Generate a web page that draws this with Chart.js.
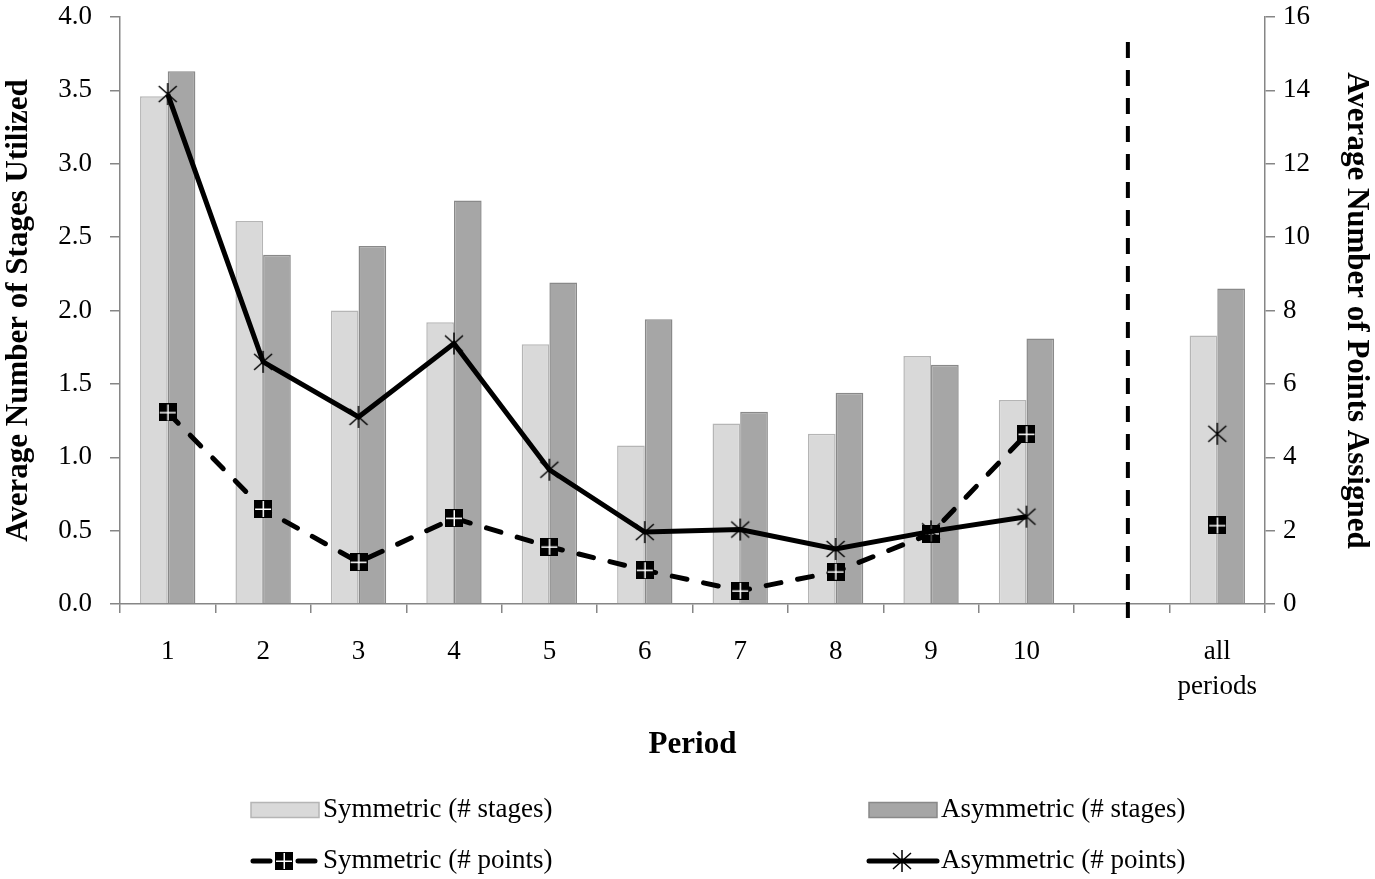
<!DOCTYPE html>
<html>
<head>
<meta charset="utf-8">
<script src="https://cdn.jsdelivr.net/npm/chart.js@4"></script>
<style>
  body { margin: 0; background: #fff; }
</style>
</head>
<body>
<canvas id="chart1" width="1375" height="879"></canvas>
<script>
// data
var periods = ["1", "2", "3", "4", "5", "6", "7", "8", "9", "10", "", ["all", "periods"]];
var symStages = [3.46, 2.61, 2.00, 1.92, 1.77, 1.08, 1.23, 1.16, 1.69, 1.39, null, 1.83];
var asymStages = [3.63, 2.38, 2.44, 2.75, 2.19, 1.94, 1.31, 1.44, 1.63, 1.81, null, 2.15];
var symPoints = [5.22, 2.59, 1.14, 2.34, 1.56, 0.92, 0.36, 0.88, 1.92, 4.63, null, 2.14];
var asymPoints = [13.9, 6.6, 5.1, 7.1, 3.66, 1.96, 2.03, 1.5, 1.98, 2.38, null, 4.64];
var stageTicks = [0, 0.5, 1, 1.5, 2, 2.5, 3, 3.5, 4];
var pointTicks = [0, 2, 4, 6, 8, 10, 12, 14, 16];

var serif = "'Liberation Serif', 'Times New Roman', serif";
var axisGray = "#868686";

// black square with a thin white cross
function squareMarker() {
  var c = document.createElement("canvas");
  c.width = 18; c.height = 18;
  var g = c.getContext("2d");
  g.fillStyle = "#000";
  g.fillRect(0, 0, 18, 18);
  g.fillStyle = "#fff";
  g.fillRect(1, 8.5, 16, 1.5);
  g.fillRect(8.5, 1, 1.5, 16);
  return c;
}

// asterisk: X plus a vertical stroke
function starMarker() {
  var c = document.createElement("canvas");
  c.width = 24; c.height = 24;
  var g = c.getContext("2d");
  g.strokeStyle = "#000";
  g.lineWidth = 1.5;
  g.beginPath();
  g.moveTo(3, 4); g.lineTo(21, 20);
  g.moveTo(21, 4); g.lineTo(3, 20);
  g.moveTo(12, 1); g.lineTo(12, 23);
  g.stroke();
  return c;
}

var symMark = squareMarker();
var asymMark = starMarker();

// keep tick label padding from pushing the plot area down
function fixWidth(w) {
  return function (s) {
    s.width = w;
    s.paddingTop = 0;
    s.paddingBottom = 0;
  };
}

// dashed separator before "all periods"
var separator = {
  id: "separator",
  afterDatasetsDraw: function (chart) {
    var x = chart.scales.x.getPixelForValue(10) + 6;
    var g = chart.ctx;
    g.save();
    g.strokeStyle = "#000";
    g.lineWidth = 4;
    g.setLineDash([16, 12]);
    g.beginPath();
    g.moveTo(x, 42);
    g.lineTo(x, 620);
    g.stroke();
    g.restore();
  }
};

// two-column legend under the axis title
var gridLegend = {
  id: "gridLegend",
  afterDraw: function (chart) {
    var g = chart.ctx;
    var cols = [251, 869];
    var rows = [810, 861];
    g.save();
    g.font = "27px " + serif;
    g.textBaseline = "middle";
    chart.data.datasets.forEach(function (ds, i) {
      var x = cols[i % 2], y = rows[Math.floor(i / 2)];
      if (ds.type === "line") {
        g.strokeStyle = "#000";
        g.lineWidth = 5;
        g.lineCap = "round";
        g.beginPath();
        if (ds.borderDash) {
          g.moveTo(x + 2, y); g.lineTo(x + 19, y);
          g.moveTo(x + 47, y); g.lineTo(x + 64, y);
        } else {
          g.moveTo(x, y); g.lineTo(x + 68, y);
        }
        g.stroke();
        var m = ds.pointStyle;
        g.drawImage(m, x + 33 - m.width / 2, y - m.height / 2);
      } else {
        g.fillStyle = ds.backgroundColor;
        g.fillRect(x, y - 7.5, 68, 15);
        g.strokeStyle = ds.borderColor;
        g.lineWidth = 1.5;
        g.strokeRect(x, y - 7.5, 68, 15);
      }
      g.fillStyle = "#000";
      g.fillText(ds.label, x + 72, y);
    });
    g.restore();
  }
};

new Chart(document.getElementById("chart1"), {
  type: "bar",
  data: {
    labels: periods,
    datasets: [
      {
        label: "Symmetric (# stages)",
        data: symStages,
        backgroundColor: "#d9d9d9",
        borderColor: "#b5b5b5",
        borderWidth: 1.5,
        yAxisID: "y",
        order: 2
      },
      {
        label: "Asymmetric (# stages)",
        data: asymStages,
        backgroundColor: "#a6a6a6",
        borderColor: "#898989",
        borderWidth: 1.5,
        yAxisID: "y",
        order: 2
      },
      {
        type: "line",
        label: "Symmetric (# points)",
        data: symPoints,
        borderColor: "#000",
        borderWidth: 5,
        borderDash: [15, 17],
        borderCapStyle: "round",
        pointStyle: symMark,
        pointRadius: 9,
        tension: 0,
        spanGaps: false,
        yAxisID: "y1",
        order: 1
      },
      {
        type: "line",
        label: "Asymmetric (# points)",
        data: asymPoints,
        borderColor: "#000",
        borderWidth: 5,
        pointStyle: asymMark,
        pointRadius: 12,
        tension: 0,
        spanGaps: false,
        yAxisID: "y1",
        order: 0
      }
    ]
  },
  options: {
    responsive: false,
    animation: false,
    categoryPercentage: 0.58,
    barPercentage: 1,
    layout: { padding: { top: 13, left: 0, right: 0, bottom: 110 } },
    plugins: {
      legend: { display: false },
      tooltip: { enabled: false }
    },
    scales: {
      x: {
        afterFit: function (s) { s.height = 165; },
        grid: { drawOnChartArea: false, tickLength: 9, color: axisGray, lineWidth: 1.5 },
        border: { color: axisGray, width: 1.5 },
        ticks: {
          color: "#000",
          padding: 21,
          maxRotation: 0,
          autoSkip: false,
          font: { family: serif, size: 27, lineHeight: 1.3 }
        },
        title: {
          display: true,
          text: "Period",
          color: "#000",
          padding: { top: 0, bottom: 5 },
          font: { family: serif, size: 31, weight: "bold" }
        }
      },
      y: {
        position: "left",
        min: 0,
        max: 4,
        afterFit: fixWidth(120),
        afterBuildTicks: function (s) { s.ticks = stageTicks.map(function (v) { return { value: v }; }); },
        grid: { drawOnChartArea: false, tickLength: 10, color: axisGray, lineWidth: 1.5 },
        border: { color: axisGray, width: 1.5 },
        ticks: {
          color: "#000",
          padding: 18,
          font: { family: serif, size: 27, lineHeight: 1 },
          callback: function (v) { return v.toFixed(1); }
        },
        title: {
          display: true,
          text: "Average Number of Stages Utilized",
          color: "#000",
          padding: 0,
          font: { family: serif, size: 31, weight: "bold" }
        }
      },
      y1: {
        position: "right",
        min: 0,
        max: 16,
        afterFit: fixWidth(110),
        afterBuildTicks: function (s) { s.ticks = pointTicks.map(function (v) { return { value: v }; }); },
        grid: { drawOnChartArea: false, tickLength: 10, color: axisGray, lineWidth: 1.5 },
        border: { color: axisGray, width: 1.5 },
        ticks: {
          color: "#000",
          padding: 8,
          font: { family: serif, size: 27, lineHeight: 1 }
        },
        title: {
          display: true,
          text: "Average Number of Points Assigned",
          color: "#000",
          padding: 0,
          font: { family: serif, size: 31, weight: "bold" }
        }
      }
    }
  },
  plugins: [separator, gridLegend]
});
</script>
</body>
</html>
